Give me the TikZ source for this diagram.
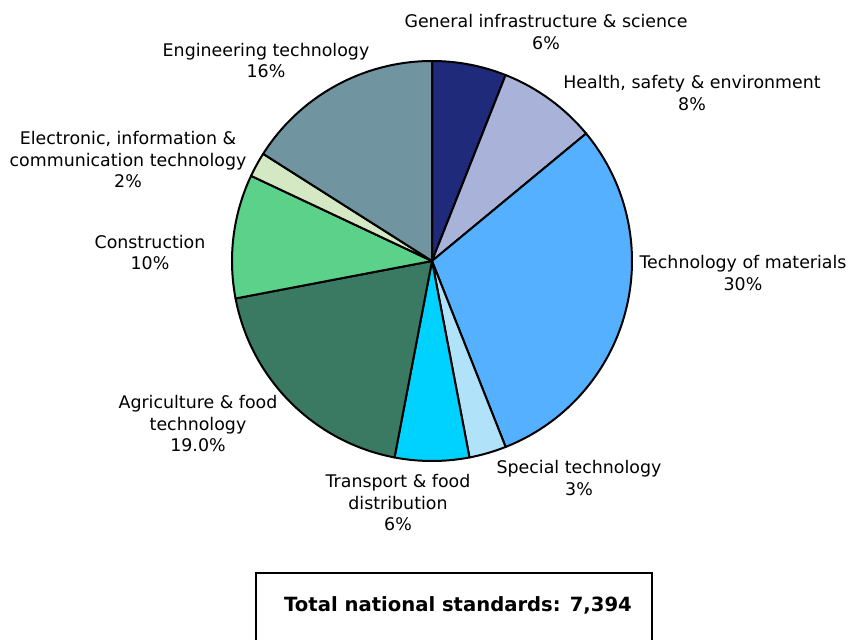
\documentclass[tikz,border=0pt]{standalone}
\usepackage{fontspec}
\setmainfont{DejaVu Sans}
\definecolor{cGen}{HTML}{1F2A7A}
\definecolor{cHea}{HTML}{A9B3D9}
\definecolor{cMat}{HTML}{55B0FF}
\definecolor{cSpe}{HTML}{B0E2FA}
\definecolor{cTra}{HTML}{00D2FF}
\definecolor{cAgr}{HTML}{3A7A62}
\definecolor{cCon}{HTML}{5CD18A}
\definecolor{cEle}{HTML}{D4E8C4}
\definecolor{cEng}{HTML}{7094A0}
\tikzset{
  slicepath/.style={draw=black, line width=2pt, line join=round},
  lbl/.style={align=center, inner sep=0pt, font=\fontsize{17.4}{21.5}\selectfont},
  totbox/.style={draw=black, line width=1.3pt}
}
\newcommand{\pieslice}[3]{%
  \filldraw[slicepath, fill=#3] (pc) -- ++(#1:200) arc[start angle=#1, end angle=#2, radius=200] -- cycle;}
\begin{document}
\begin{tikzpicture}[x=1pt,y=1pt]
\useasboundingbox (0,0) rectangle (850,-639);
\coordinate (pc) at (432,-261);
\pieslice{90}{68.4}{cGen}
\pieslice{68.4}{39.6}{cHea}
\pieslice{39.6}{-68.4}{cMat}
\pieslice{-68.4}{-79.2}{cSpe}
\pieslice{-79.2}{-100.8}{cTra}
\pieslice{-100.8}{-169.2}{cAgr}
\pieslice{-169.2}{-205.2}{cCon}
\pieslice{-205.2}{-212.4}{cEle}
\pieslice{-212.4}{-270}{cEng}
\node[lbl] (gen) at (546,-32) {General infrastructure \& science\\6\%};
\node[lbl] (hea) at (692,-93) {Health, safety \& environment\\8\%};
\node[lbl] (mat) at (743,-273) {Technology of materials\\30\%};
\node[lbl] (spe) at (579,-478) {Special technology\\3\%};
\node[lbl] (tra) at (398,-503) {Transport \& food\\distribution\\6\%};
\node[lbl] (agr) at (198,-424) {Agriculture \& food\\technology\\19.0\%};
\node[lbl] (con) at (150,-252.5) {Construction\\10\%};
\node[lbl] (ele) at (128,-160) {Electronic, information \&\\communication technology\\2\%};
\node[lbl] (eng) at (266,-60.5) {Engineering technology\\16\%};
\draw[totbox] (256,-573) rectangle (652,-660);
\node[font=\fontsize{19.6}{22}\selectfont\bfseries, inner sep=0pt] (tot) at (458,-605) {Total national standards: 7,394};
\end{tikzpicture}
\end{document}
